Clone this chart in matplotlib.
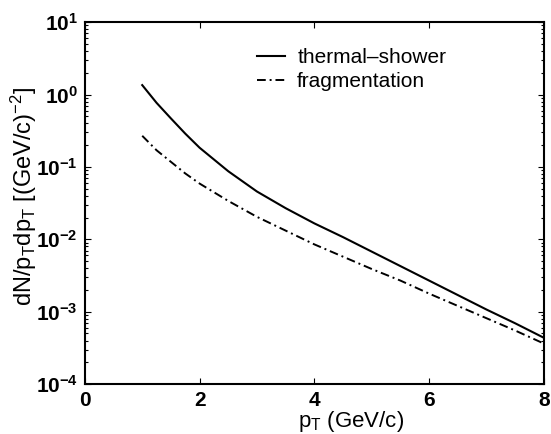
import numpy as np
import matplotlib
matplotlib.use("Agg")
import matplotlib.pyplot as plt
from matplotlib.ticker import FixedLocator, LogLocator, NullFormatter

plt.rcParams['font.family'] = ['Liberation Sans', 'DejaVu Sans']
plt.rcParams['mathtext.fontset'] = 'custom'
plt.rcParams['mathtext.rm'] = 'Liberation Sans'
plt.rcParams['mathtext.it'] = 'Liberation Sans:italic'
plt.rcParams['mathtext.bf'] = 'Liberation Sans:bold'

# p_T values (GeV/c) and log10 of the spectra
pt = [1.0, 1.25, 1.5, 1.75, 2.0, 2.5, 3.0, 3.5, 4.0, 4.5, 5.0, 5.5, 6.0,
      6.5, 7.0, 7.5, 8.0]
log_thermal = [0.13, -0.115, -0.33, -0.54, -0.735, -1.06, -1.34, -1.57,
               -1.78, -1.97, -2.17, -2.37, -2.57, -2.77, -2.97, -3.16, -3.36]
log_frag = [-0.57, -0.77, -0.93, -1.09, -1.23, -1.47, -1.69, -1.88, -2.07,
            -2.24, -2.41, -2.57, -2.75, -2.92, -3.09, -3.26, -3.44]

thermal = 10.0 ** np.array(log_thermal)
frag = 10.0 ** np.array(log_frag)

xticks = [0, 2, 4, 6, 8]
yexp = [-4, -3, -2, -1, 0, 1]

fig = plt.figure(figsize=(5.51, 4.34), dpi=100)
ax = fig.add_axes([0.154, 0.115, 0.833, 0.834])

ax.semilogy(pt, thermal, color='black', lw=1.5, label='thermal\u2013shower')
ax.semilogy(pt, frag, color='black', lw=1.4, dashes=(4.5, 2, 1, 2),
            label='fragmentation')

ax.set_xlim(0, 8)
ax.set_ylim(1e-4, 10)
ax.xaxis.set_major_locator(FixedLocator(xticks))
ax.set_xticklabels([str(t) for t in xticks], fontweight='bold', fontsize=15)
ax.yaxis.set_major_locator(FixedLocator([10.0 ** e for e in yexp]))
ax.set_yticklabels([r'$\mathbf{10^{%d}}$' % e for e in yexp], fontsize=15)
ax.yaxis.set_minor_locator(LogLocator(base=10, subs=np.arange(2, 10)))
ax.yaxis.set_minor_formatter(NullFormatter())

ax.tick_params(which='both', direction='in', top=True, right=True, width=0.8)
ax.tick_params(which='major', length=4, pad=5)
ax.tick_params(which='minor', length=2)
for s in ax.spines.values():
    s.set_linewidth(1.5)

ax.set_xlabel(r'p$_\mathregular{T}$ (GeV/c)', fontsize=16)
ax.xaxis.set_label_coords(0.58, -0.068)
ax.set_ylabel(r'dN/p$_\mathregular{T}$dp$_\mathregular{T}$ [(GeV/c)$^{-2}$]',
              fontsize=17)
ax.yaxis.set_label_coords(-0.1, 0.52)

ax.legend(loc='upper left', bbox_to_anchor=(0.375, 0.928), frameon=False,
          fontsize=15, handlelength=1.35, handletextpad=0.58,
          labelspacing=0.25, borderpad=0, borderaxespad=0)

fig.savefig('out.png', dpi=100)
